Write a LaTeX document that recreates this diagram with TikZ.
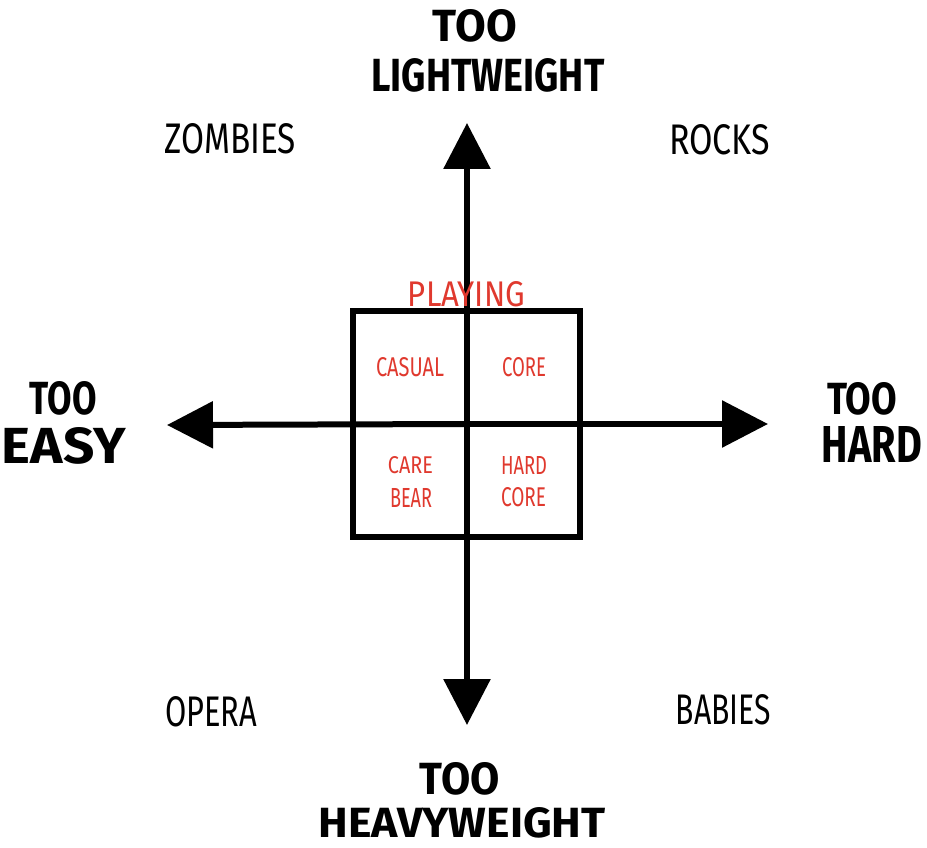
\documentclass[tikz,border=0pt]{standalone}
\usepackage{fontspec}
\setmainfont{Fira Sans}
\usetikzlibrary{arrows.meta}
\definecolor{labred}{HTML}{E0392E}
\newcommand{\fitbox}[3]{\resizebox{#1pt}{#2pt}{#3}}
\begin{document}
\begin{tikzpicture}[x=1pt,y=-1pt,
  lbl/.style={inner sep=0pt,anchor=center},
  axis/.style={line width=6pt,-{Triangle[width=46pt,length=46pt]}},
  boxline/.style={line width=6.5pt}]
\useasboundingbox[fill=white] (0,0) rectangle (927,848);
% axes
\coordinate (c) at (467,424);
\coordinate (top) at (467,123);
\coordinate (bot) at (467,725);
\coordinate (lft) at (167,425);
\coordinate (rgt) at (768,424);
\draw[axis] (c) -- (top);
\draw[axis] (c) -- (bot);
\draw[axis] (c) -- (lft);
\draw[axis] (c) -- (rgt);
% box
\coordinate (b1) at (353,311);
\coordinate (b2) at (580,537);
\draw[boxline] (b1) rectangle (b2);
% headings
\node[lbl] (t1) at (475,26) {\fitbox{84}{32}{\bfseries TOO}};
\node[lbl] (t2) at (488,75) {\fitbox{233}{33}{\bfseries LIGHTWEIGHT}};
\node[lbl] (e1) at (63,398) {\fitbox{67}{33}{\bfseries TOO}};
\node[lbl] (e2) at (64,446) {\fitbox{124}{36}{\bfseries EASY}};
\node[lbl] (h1) at (862,399) {\fitbox{70}{32}{\bfseries TOO}};
\node[lbl] (h2) at (872,444) {\fitbox{100}{36}{\bfseries HARD}};
\node[lbl] (w1) at (460,779) {\fitbox{80}{32}{\bfseries TOO}};
\node[lbl] (w2) at (462,823) {\fitbox{287}{30}{\bfseries HEAVYWEIGHT}};
% corner labels
\node[lbl] (zom) at (230.5,139) {\fitbox{131}{30}{ZOMBIES}};
\node[lbl] (roc) at (719.5,140) {\fitbox{101}{30}{ROCKS}};
\node[lbl] (ope) at (211,712) {\fitbox{92}{30}{OPERA}};
\node[lbl] (bab) at (723.5,710) {\fitbox{95}{30}{BABIES}};
% inner labels
\node[lbl,text=labred] (pla) at (466.5,294.5) {\fitbox{117}{25}{PLAYING}};
\node[lbl,text=labred] (cas) at (410,367.5) {\fitbox{68}{19}{CASUAL}};
\node[lbl,text=labred] (cor) at (524,367.5) {\fitbox{44}{19}{CORE}};
\node[lbl,text=labred] (car) at (410.5,465.5) {\fitbox{45}{17}{CARE}};
\node[lbl,text=labred] (bea) at (411,497.5) {\fitbox{42}{19}{BEAR}};
\node[lbl,text=labred] (har) at (524,465.5) {\fitbox{46}{18}{HARD}};
\node[lbl,text=labred] (co2) at (523.5,497.5) {\fitbox{45}{19}{CORE}};
\end{tikzpicture}
\end{document}
